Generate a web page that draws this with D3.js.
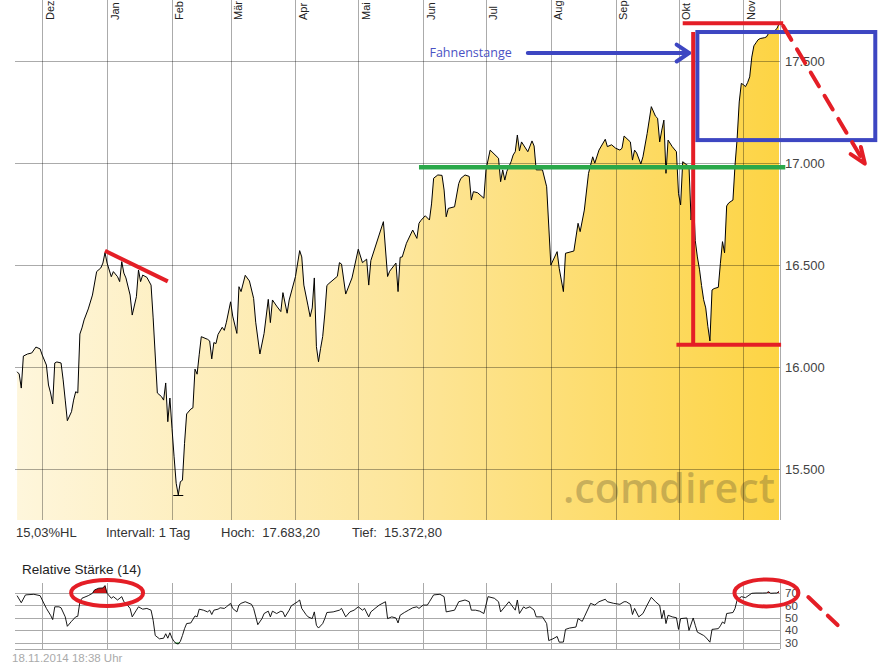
<!DOCTYPE html>
<html><head><meta charset="utf-8">
<script src="https://cdn.jsdelivr.net/npm/d3@7/dist/d3.min.js"></script>
<style>body{margin:0;background:#fff}svg{display:block}</style>
</head><body>
<script>
// ---------- data ----------
const monthLabels = ["Dez","Jan","Feb","Mär","Apr","Mai","Jun","Jul","Aug","Sep","Okt","Nov"];
const priceTicks = [15500,16000,16500,17000,17500];
const rsiTicks = [30,40,50,60,70];
const infoTexts = ["15,03%HL","Intervall: 1 Tag","Hoch:  17.683,20","Tief:  15.372,80"];
const rsiTitle = "Relative Stärke (14)";
const stampText = "18.11.2014 18:38 Uhr";
const calloutText = "Fahnenstange";

const price = [
["2013-11-19",15977],["2013-11-20",15966],["2013-11-21",15897],["2013-11-22",16054],["2013-11-24",16064],
["2013-11-26",16069],["2013-11-28",16098],["2013-11-30",16089],["2013-12-01",16059],["2013-12-03",16010],
["2013-12-04",15912],["2013-12-05",15873],["2013-12-06",15819],["2013-12-07",16020],["2013-12-08",16025],
["2013-12-10",16020],["2013-12-11",15937],["2013-12-12",15838],["2013-12-13",15737],["2013-12-15",15781],
["2013-12-16",15838],["2013-12-17",15879],["2013-12-18",15873],["2013-12-19",16162],["2013-12-20",16192],
["2013-12-21",16231],["2013-12-23",16285],["2013-12-25",16353],["2013-12-27",16468],["2013-12-29",16486],
["2013-12-30",16510],["2013-12-31",16561],["2014-01-01",16510],["2014-01-03",16443],["2014-01-04",16468],
["2014-01-06",16443],["2014-01-07",16419],["2014-01-08",16517],["2014-01-09",16461],["2014-01-10",16437],
["2014-01-12",16353],["2014-01-13",16255],["2014-01-15",16345],["2014-01-16",16476],["2014-01-17",16419],
["2014-01-18",16451],["2014-01-20",16440],["2014-01-22",16402],["2014-01-23",16241],["2014-01-25",15873],
["2014-01-27",15855],["2014-01-28",15838],["2014-01-29",15922],["2014-01-30",15732],["2014-01-31",15848],
["2014-02-01",15700],["2014-02-02",15560],["2014-02-03",15430],["2014-02-04",15373],["2014-02-05",15438],
["2014-02-06",15445],["2014-02-07",15626],["2014-02-08",15770],["2014-02-10",15794],["2014-02-11",15800],
["2014-02-12",15990],["2014-02-13",15965],["2014-02-14",16060],["2014-02-15",16149],["2014-02-18",16136],
["2014-02-19",16128],["2014-02-20",16040],["2014-02-21",16120],["2014-02-22",16115],["2014-02-23",16160],
["2014-02-25",16195],["2014-02-26",16180],["2014-02-27",16220],["2014-03-01",16320],["2014-03-02",16250],
["2014-03-04",16165],["2014-03-05",16394],["2014-03-06",16370],["2014-03-08",16450],["2014-03-10",16422],
["2014-03-12",16337],["2014-03-13",16220],["2014-03-15",16064],["2014-03-17",16165],["2014-03-19",16332],
["2014-03-20",16218],["2014-03-21",16329],["2014-03-23",16299],["2014-03-25",16272],["2014-03-26",16365],
["2014-03-28",16264],["2014-03-29",16329],["2014-04-01",16444],["2014-04-03",16571],["2014-04-04",16540],
["2014-04-05",16402],["2014-04-07",16300],["2014-04-08",16247],["2014-04-09",16290],["2014-04-10",16437],
["2014-04-11",16100],["2014-04-12",16026],["2014-04-13",16092],["2014-04-14",16150],["2014-04-15",16260],
["2014-04-16",16400],["2014-04-17",16410],["2014-04-21",16445],["2014-04-22",16512],["2014-04-23",16505],
["2014-04-25",16358],["2014-04-28",16437],["2014-05-01",16578],["2014-05-03",16512],["2014-05-05",16529],
["2014-05-06",16402],["2014-05-07",16522],["2014-05-13",16713],["2014-05-15",16444],["2014-05-16",16470],
["2014-05-19",16510],["2014-05-20",16370],["2014-05-21",16538],["2014-05-22",16540],["2014-05-24",16607],
["2014-05-27",16672],["2014-05-29",16631],["2014-05-30",16705],["2014-05-31",16720],["2014-06-02",16742],
["2014-06-04",16721],["2014-06-05",16800],["2014-06-06",16926],["2014-06-08",16942],["2014-06-10",16940],
["2014-06-11",16868],["2014-06-12",16737],["2014-06-13",16778],["2014-06-16",16786],["2014-06-18",16900],
["2014-06-19",16925],["2014-06-21",16942],["2014-06-23",16935],["2014-06-24",16819],["2014-06-25",16860],
["2014-06-27",16855],["2014-06-30",16828],["2014-07-01",16967],["2014-07-03",17064],["2014-07-07",17024],
["2014-07-08",16909],["2014-07-09",16967],["2014-07-10",16917],["2014-07-11",16960],["2014-07-13",17007],
["2014-07-14",17040],["2014-07-15",17056],["2014-07-16",17138],["2014-07-17",17060],["2014-07-18",17104],
["2014-07-21",17056],["2014-07-23",17109],["2014-07-24",17084],["2014-07-25",16967],["2014-07-28",16967],
["2014-07-30",16884],["2014-08-01",16500],["2014-08-04",16566],["2014-08-05",16484],["2014-08-06",16427],
["2014-08-07",16370],["2014-08-08",16558],["2014-08-12",16569],["2014-08-14",16705],["2014-08-15",16664],
["2014-08-17",16770],["2014-08-19",16950],["2014-08-21",17031],["2014-08-22",17000],["2014-08-24",17064],
["2014-08-27",17117],["2014-08-28",17081],["2014-08-30",17090],["2014-09-01",17073],["2014-09-03",17064],
["2014-09-04",17073],["2014-09-05",17133],["2014-09-08",17104],["2014-09-09",17015],["2014-09-10",17064],
["2014-09-11",17050],["2014-09-13",16996],["2014-09-14",17031],["2014-09-16",17145],["2014-09-18",17277],
["2014-09-20",17230],["2014-09-21",17220],["2014-09-22",17104],["2014-09-23",17162],["2014-09-24",17211],
["2014-09-25",16950],["2014-09-26",17113],["2014-09-28",17081],["2014-09-30",17056],["2014-10-01",16850],
["2014-10-02",16795],["2014-10-03",17007],["2014-10-05",16991],["2014-10-06",16985],["2014-10-07",16721],
["2014-10-08",16868],["2014-10-09",16620],["2014-10-10",16540],["2014-10-11",16480],["2014-10-12",16400],
["2014-10-13",16330],["2014-10-14",16290],["2014-10-15",16200],["2014-10-16",16128],["2014-10-17",16378],
["2014-10-18",16385],["2014-10-20",16391],["2014-10-21",16509],["2014-10-22",16615],["2014-10-23",16560],
["2014-10-24",16790],["2014-10-25",16805],["2014-10-27",16819],["2014-10-28",16991],["2014-10-29",17120],
["2014-10-30",17300],["2014-10-31",17391],["2014-11-01",17385],["2014-11-02",17375],["2014-11-03",17395],
["2014-11-04",17423],["2014-11-05",17520],["2014-11-06",17575],["2014-11-07",17590],["2014-11-08",17605],
["2014-11-09",17611],["2014-11-11",17615],["2014-11-12",17619],["2014-11-13",17636],["2014-11-15",17644],
["2014-11-16",17650],["2014-11-17",17660],["2014-11-18",17683]
];

const rsi = [
["2013-11-19",67.8],["2013-11-21",62.1],["2013-11-23",68.4],["2013-11-27",68.9],["2013-11-30",67.8],
["2013-12-01",64.3],["2013-12-03",57.5],["2013-12-05",52],["2013-12-06",48.5],["2013-12-07",58.8],
["2013-12-09",58.8],["2013-12-10",58],["2013-12-12",50.7],["2013-12-13",43.1],["2013-12-15",47.1],
["2013-12-17",50.7],["2013-12-18",51.2],["2013-12-19",62.9],["2013-12-20",65.7],["2013-12-23",67.8],
["2013-12-25",69.7],["2013-12-26",72.4],["2013-12-28",73.8],["2013-12-30",74],["2013-12-31",75.9],
["2014-01-01",69.7],["2014-01-03",65.7],["2014-01-04",67],["2014-01-06",64.3],["2014-01-08",67],
["2014-01-09",62.9],["2014-01-10",61.6],["2014-01-12",57.5],["2014-01-13",50.7],["2014-01-15",56.1],
["2014-01-16",58.8],["2014-01-18",56.9],["2014-01-20",57.5],["2014-01-22",56.1],["2014-01-23",48],
["2014-01-24",35.7],["2014-01-26",33],["2014-01-28",33.5],["2014-01-29",37.1],["2014-01-30",33.5],
["2014-01-31",37.9],["2014-02-01",33.5],["2014-02-02",30.8],["2014-02-03",29.3],["2014-02-04",28.8],
["2014-02-05",31],["2014-02-06",35.7],["2014-02-07",41.2],["2014-02-08",45.3],["2014-02-10",45.8],
["2014-02-12",51.5],["2014-02-13",50.7],["2014-02-14",56.9],["2014-02-16",56.1],["2014-02-18",54.7],
["2014-02-19",56.1],["2014-02-20",52.6],["2014-02-21",56.1],["2014-02-23",56.9],["2014-02-24",58],
["2014-02-26",57.5],["2014-02-27",58.8],["2014-03-01",61.6],["2014-03-02",57.5],["2014-03-04",54.7],
["2014-03-05",60.2],["2014-03-06",61.6],["2014-03-08",62.9],["2014-03-11",60.8],["2014-03-12",57.5],
["2014-03-14",44.4],["2014-03-16",49.3],["2014-03-17",53.4],["2014-03-19",55.3],["2014-03-20",50.7],
["2014-03-21",55.3],["2014-03-23",53.4],["2014-03-25",55.3],["2014-03-26",54.7],["2014-03-27",50.7],
["2014-03-29",56.1],["2014-03-30",59.6],["2014-04-02",62.9],["2014-04-03",64.3],["2014-04-04",57.5],
["2014-04-06",52.6],["2014-04-07",50.7],["2014-04-09",49.3],["2014-04-10",54.7],["2014-04-11",43.9],
["2014-04-12",41.7],["2014-04-14",45.3],["2014-04-15",49.3],["2014-04-16",54.2],["2014-04-19",54.7],
["2014-04-22",56.1],["2014-04-23",57.5],["2014-04-25",50.7],["2014-04-27",54.7],["2014-04-29",56.1],
["2014-05-01",58.8],["2014-05-03",56.1],["2014-05-04",57.5],["2014-05-06",50.7],["2014-05-07",54.7],
["2014-05-09",57.5],["2014-05-11",60.2],["2014-05-14",62.9],["2014-05-15",49.3],["2014-05-17",50.7],
["2014-05-19",49.8],["2014-05-20",45.8],["2014-05-21",52],["2014-05-23",54.2],["2014-05-25",56.1],
["2014-05-27",58],["2014-05-29",58.8],["2014-05-30",57.5],["2014-06-01",60.2],["2014-06-03",60.2],
["2014-06-04",62.9],["2014-06-06",68.4],["2014-06-09",68.9],["2014-06-11",67],["2014-06-12",54.7],
["2014-06-16",56.1],["2014-06-18",62.9],["2014-06-21",64.3],["2014-06-23",62.9],["2014-06-24",56.1],
["2014-06-26",56.1],["2014-06-28",55.3],["2014-06-30",53.4],["2014-07-02",67],["2014-07-05",65.7],
["2014-07-07",62.9],["2014-07-08",54.7],["2014-07-10",58.8],["2014-07-12",62.9],["2014-07-15",56.1],
["2014-07-16",64.3],["2014-07-17",53.4],["2014-07-19",58.8],["2014-07-20",57.5],["2014-07-22",58.8],
["2014-07-24",56.1],["2014-07-25",50.7],["2014-07-28",50.7],["2014-07-30",45.3],["2014-07-31",31.6],
["2014-08-02",33],["2014-08-04",34.9],["2014-08-05",30.3],["2014-08-07",30.4],["2014-08-08",40.6],
["2014-08-10",41.7],["2014-08-13",42.5],["2014-08-14",49.3],["2014-08-16",47.1],["2014-08-17",50.7],
["2014-08-20",61.6],["2014-08-22",60.2],["2014-08-24",62.9],["2014-08-27",64.9],["2014-08-28",62.9],
["2014-08-31",61.6],["2014-09-03",60.8],["2014-09-05",62.9],["2014-09-06",62.9],["2014-09-08",60.8],
["2014-09-09",52.6],["2014-09-10",57.5],["2014-09-12",50.7],["2014-09-14",53.4],["2014-09-16",60.2],
["2014-09-18",66.5],["2014-09-20",62.9],["2014-09-22",60],["2014-09-23",49.3],["2014-09-24",56],
["2014-09-25",45.3],["2014-09-26",52],["2014-09-28",50.7],["2014-09-30",50],["2014-10-01",40.6],
["2014-10-02",49.3],["2014-10-05",49.8],["2014-10-06",39.8],["2014-10-08",49.8],["2014-10-09",43.9],
["2014-10-10",38.4],["2014-10-13",35.7],["2014-10-14",34.3],["2014-10-16",30.3],["2014-10-17",40.6],
["2014-10-20",41.2],["2014-10-21",43.5],["2014-10-22",46.6],["2014-10-23",45.3],["2014-10-24",53.4],
["2014-10-27",54.2],["2014-10-28",57.5],["2014-10-29",64.3],["2014-10-31",67],["2014-11-02",66.2],
["2014-11-05",69.7],["2014-11-07",69.9],["2014-11-10",69.9],["2014-11-12",70],["2014-11-13",71],
["2014-11-14",69.7],["2014-11-16",69.9],["2014-11-17",69.9],["2014-11-18",71.2]
];

// hand-drawn annotations, in data coordinates [date, value]
const trendJan = [["2013-12-31",16570],["2014-01-30",16420]];
const resistance = [["2014-05-30",16980],["2014-11-21",16980]];
const calloutArrow = [["2014-07-21",17540],["2014-10-06",17540]];
const calloutAt = ["2014-06-04",17540];
const flagBox = [["2014-10-10",17643],["2015-01-03",17113]];
const poleTop = [["2014-10-03",17686],["2014-11-20",17686]];
const poleBottom = [["2014-09-30",16110],["2014-11-19",16110]];
const pole = [["2014-10-08",17643],["2014-10-08",16110]];
const targetArrow = [["2014-11-20",17672],["2014-12-29",16998]];
const rsiRings = [["2014-01-01",70],["2014-11-12",70]];
const rsiDash = [["2014-12-02",66.7],["2014-12-16",44.1]];

// ---------- setup ----------
const parse = d3.timeParse("%Y-%m-%d");
const P = price.map(d => ({date: parse(d[0]), v: d[1]}));
const R = rsi.map(d => ({date: parse(d[0]), v: d[1]}));
const de = d3.formatLocale({decimal: ",", thousands: ".", grouping: [3], currency: ["", ""]});
const fmt = de.format(",d");

const W = 895, H = 669;
const L = 15, RIGHT = 780, BOT = 520;
const x = d3.scaleTime().domain([parse("2013-11-18"), parse("2014-11-18")]).range([15, 779]);
const y = d3.scaleLinear().domain([15250, 17800]).range([520, 0]);
const yr = d3.scaleLinear().domain([24.8, 78]).range([649, 583]);
const FONT = "Arial, 'Liberation Sans', sans-serif";
const RED = "#e41e26", BLUE = "#3d46c2", GREEN = "#2aa84a";
const GRID = "rgba(0,0,0,0.33)";

const svg = d3.select("body").append("svg").attr("width", W).attr("height", H)
  .style("font-family", FONT);

const defs = svg.append("defs");
const grad = defs.append("linearGradient").attr("id", "fg")
  .attr("gradientUnits", "userSpaceOnUse").attr("x1", L).attr("x2", RIGHT).attr("y1", 0).attr("y2", 0);
[[0, "#fef6dc"], [0.5, "#fde69c"], [1, "#fdd444"]].forEach(s =>
  grad.append("stop").attr("offset", s[0]).attr("stop-color", s[1]));

const months = d3.timeMonth.range(parse("2013-12-01"), parse("2014-11-02"));
const px = v => Math.round(v) + 0.5;

// ---------- main panel ----------
svg.append("path").datum(P)
  .attr("d", d3.area().x(d => x(d.date)).y0(BOT).y1(d => y(d.v)))
  .attr("fill", "url(#fg)");

svg.append("text").text(".comdirect").attr("x", 563).attr("y", 503)
  .attr("textLength", 212).attr("lengthAdjust", "spacingAndGlyphs")
  .style("font-family", "'Open Sans', sans-serif").style("font-weight", 600)
  .style("font-size", "42px").attr("fill", "rgba(100,88,50,0.34)");

const g = svg.append("g").attr("stroke", GRID).attr("stroke-width", 1);
priceTicks.forEach(t => g.append("line").attr("x1", L).attr("x2", RIGHT).attr("y1", px(y(t))).attr("y2", px(y(t))));
months.forEach(m => g.append("line").attr("x1", px(x(m))).attr("x2", px(x(m))).attr("y1", 0).attr("y2", BOT));
g.append("line").attr("x1", RIGHT + 0.5).attr("x2", RIGHT + 0.5).attr("y1", 0).attr("y2", BOT);

months.forEach((m, i) => svg.append("text").text(monthLabels[i])
  .attr("transform", `translate(${x(m) + 11.5},20) rotate(-90)`)
  .style("font-size", "11px").attr("fill", "#222"));

svg.append("path").datum(P)
  .attr("d", d3.line().x(d => x(d.date)).y(d => y(d.v)))
  .attr("fill", "none").attr("stroke", "#000").attr("stroke-width", 1);

const lo = d3.least(P, d => d.v), hi = d3.greatest(P, d => d.v);
[lo, hi].forEach(p => svg.append("line").attr("x1", x(p.date) - 5).attr("x2", x(p.date) + 5)
  .attr("y1", px(y(p.v))).attr("y2", px(y(p.v))).attr("stroke", "#000"));

const axR = svg.append("g").attr("transform", `translate(${RIGHT},0)`)
  .call(d3.axisRight(y).tickValues(priceTicks).tickFormat(fmt).tickSize(0).tickPadding(5));
axR.select(".domain").remove();
axR.selectAll("text").style("font-size", "13px").style("font-family", FONT).attr("fill", "#444");

const infoX = [16, 106, 221, 352];
infoTexts.forEach((t, i) => svg.append("text").text(t).attr("x", infoX[i]).attr("y", 537)
  .style("font-size", "13px").attr("fill", "#333").attr("xml:space", "preserve").style("white-space", "pre"));

// ---------- RSI panel ----------
svg.append("text").text(rsiTitle).attr("x", 22).attr("y", 574)
  .style("font-size", "13.5px").attr("fill", "#222");

const gr = svg.append("g").attr("stroke", "#aaa").attr("stroke-width", 1);
rsiTicks.forEach(t => gr.append("line").attr("x1", L).attr("x2", RIGHT).attr("y1", px(yr(t))).attr("y2", px(yr(t))));
months.forEach(m => gr.append("line").attr("x1", px(x(m))).attr("x2", px(x(m))).attr("y1", 583).attr("y2", 649));
gr.append("line").attr("x1", RIGHT + 0.5).attr("x2", RIGHT + 0.5).attr("y1", 583).attr("y2", 649);
gr.append("line").attr("x1", L).attr("x2", RIGHT).attr("y1", 649.5).attr("y2", 649.5);

svg.append("path").datum(R)
  .attr("d", d3.area().x(d => x(d.date)).y0(yr(70)).y1(d => yr(Math.max(70, d.v))))
  .attr("fill", "#cc1518");
svg.append("path").datum(R)
  .attr("d", d3.area().x(d => x(d.date)).y0(yr(30)).y1(d => yr(Math.min(30, d.v))))
  .attr("fill", "#1a9a2a");
svg.append("path").datum(R)
  .attr("d", d3.line().x(d => x(d.date)).y(d => yr(d.v)))
  .attr("fill", "none").attr("stroke", "#000").attr("stroke-width", 0.9);

const axRr = svg.append("g").attr("transform", `translate(${RIGHT},0)`)
  .call(d3.axisRight(yr).tickValues(rsiTicks).tickSize(0).tickPadding(5));
axRr.select(".domain").remove();
axRr.selectAll("text").style("font-size", "11.5px").style("font-family", FONT).attr("fill", "#444");

svg.append("text").text(stampText).attr("x", 12).attr("y", 662)
  .style("font-size", "11.5px").attr("fill", "#aaa");

// ---------- annotations ----------
const pt = (d, sy = y) => [x(parse(d[0])), sy(d[1])];
const seg = (a, b, color, w, dash) => {
  const l = svg.append("line").attr("x1", a[0]).attr("y1", a[1]).attr("x2", b[0]).attr("y2", b[1])
    .attr("stroke", color).attr("stroke-width", w);
  if (dash) l.attr("stroke-dasharray", dash).attr("stroke-linecap", "round");
  return l;
};
const chevron = (from, tip, color, len, a1, a2) => {
  const th = Math.atan2(tip[1] - from[1], tip[0] - from[0]) + Math.PI;
  const p1 = [tip[0] + len * Math.cos(th - a1), tip[1] + len * Math.sin(th - a1)];
  const p2 = [tip[0] + len * Math.cos(th + a2), tip[1] + len * Math.sin(th + a2)];
  svg.append("path").attr("d", `M${p1}L${tip}L${p2}`).attr("fill", "none")
    .attr("stroke", color).attr("stroke-width", 4).attr("stroke-linecap", "round").attr("stroke-linejoin", "round");
};

// blue flag box
const b0 = pt(flagBox[0]), b1 = pt(flagBox[1]);
svg.append("rect").attr("x", b0[0]).attr("y", b0[1]).attr("width", b1[0] - b0[0]).attr("height", b1[1] - b0[1])
  .attr("fill", "none").attr("stroke", BLUE).attr("stroke-width", 4);

// red flagpole
seg(pt(poleTop[0]), pt(poleTop[1]), RED, 4);
seg(pt(pole[0]), pt(pole[1]), RED, 4);
seg(pt(poleBottom[0]), pt(poleBottom[1]), RED, 4);

// target dashed arrow
const t0 = pt(targetArrow[0]), t1 = pt(targetArrow[1]);
seg(t0, t1, RED, 4, "16,11");
chevron(t0, t1, RED, 17, 0.45, 0.3);

// Jan trend + resistance
seg(pt(trendJan[0]), pt(trendJan[1]), RED, 4);
seg(pt(resistance[0]), pt(resistance[1]), GREEN, 4.5);

// callout
const ca = pt(calloutAt);
svg.append("text").text(calloutText).attr("x", ca[0]).attr("y", ca[1] + 3.5)
  .style("font-family", "'Open Sans', sans-serif").style("font-size", "12.5px").attr("fill", "#4a52c4");
const a0 = pt(calloutArrow[0]), a1 = pt(calloutArrow[1]);
seg(a0, a1, BLUE, 4).attr("stroke-linecap", "round");
chevron(a0, a1, BLUE, 15, 0.6, 0.6);

// RSI rings and dashes
const rr = [[36, 13], [32, 13.5]];
rsiRings.forEach((d, i) => {
  const c = pt(d, yr);
  svg.append("ellipse").attr("cx", c[0]).attr("cy", c[1]).attr("rx", rr[i][0]).attr("ry", rr[i][1])
    .attr("fill", "none").attr("stroke", RED).attr("stroke-width", 4);
});
seg(pt(rsiDash[0], yr), pt(rsiDash[1], yr), RED, 4, "17,10");
</script>
</body></html>
